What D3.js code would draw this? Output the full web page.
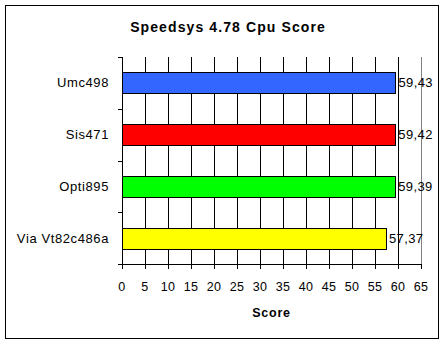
<!DOCTYPE html>
<html>
<head>
<meta charset="utf-8">
<script src="https://cdn.jsdelivr.net/npm/d3@7"></script>
<style>
  body { margin: 0; background: #fff; }
  text { font-family: "Liberation Sans", Arial, sans-serif; }
</style>
</head>
<body>
<svg id="chart" width="448" height="345"></svg>
<script>
// Chart data
var categories = ['Umc498', 'Sis471', 'Opti895', 'Via Vt82c486a'];
var scores = [59.43, 59.42, 59.39, 57.37];
var barColors = ['#3366ff', '#ff0000', '#00ff00', '#ffff00'];
var xTicks = [0, 5, 10, 15, 20, 25, 30, 35, 40, 45, 50, 55, 60, 65];

var svg = d3.select('#chart');

// Outer frame
svg.append('rect')
    .attr('x', 5.5).attr('y', 5.5)
    .attr('width', 433).attr('height', 333)
    .attr('fill', '#fff')
    .attr('stroke', '#000');

// Plot area bounds
var plotLeft = 122, plotRight = 421, plotTop = 57, plotBottom = 264;

var x = d3.scaleLinear().domain([0, 65]).range([plotLeft, plotRight]);
var y = d3.scaleBand().domain(categories).range([plotTop, plotBottom]).paddingInner(0.59).paddingOuter(0.295);
var yBand = d3.scaleBand().domain(categories).range([plotTop, plotBottom]);

// Vertical gridlines
svg.append('g').selectAll('line')
    .data(xTicks.slice(1, -1))
    .enter().append('line')
    .attr('x1', function(d) { return Math.round(x(d)) + 0.5; })
    .attr('x2', function(d) { return Math.round(x(d)) + 0.5; })
    .attr('y1', plotTop).attr('y2', plotBottom)
    .attr('stroke', '#000');

// Right edge of plot area (grey)
svg.append('line')
    .attr('x1', plotRight + 0.5).attr('x2', plotRight + 0.5)
    .attr('y1', plotTop).attr('y2', plotBottom)
    .attr('stroke', '#808080');

// Bars
svg.append('g').selectAll('rect')
    .data(scores)
    .enter().append('rect')
    .attr('x', plotLeft + 0.5)
    .attr('y', function(d, i) { return Math.round(y(categories[i])) + 0.5; })
    .attr('width', function(d) { return Math.round(x(d) - plotLeft); })
    .attr('height', Math.round(y.bandwidth()))
    .attr('fill', function(d, i) { return barColors[i]; })
    .attr('stroke', '#000');

// Value labels
svg.append('g').selectAll('text')
    .data(scores)
    .enter().append('text')
    .attr('x', function(d) { return x(d) + 3; })
    .attr('y', function(d, i) { return yBand(categories[i]) + yBand.bandwidth() / 2; })
    .attr('dy', '0.35em')
    .attr('font-size', '13px')
    .attr('letter-spacing', '0.4px')
    .attr('fill', '#000')
    .text(function(d) { return d.toFixed(2).replace('.', ','); });

// Y axis with ticks at band boundaries
var yAxis = svg.append('g');
yAxis.append('line')
    .attr('x1', plotLeft + 0.5).attr('x2', plotLeft + 0.5)
    .attr('y1', plotTop).attr('y2', plotBottom)
    .attr('stroke', '#000');
var bounds = categories.map(function(c) { return yBand(c); });
yAxis.selectAll('line.tick')
    .data(bounds)
    .enter().append('line')
    .classed('tick', true)
    .attr('x1', plotLeft - 4).attr('x2', plotLeft)
    .attr('y1', function(d) { return Math.round(d) + 0.5; })
    .attr('y2', function(d) { return Math.round(d) + 0.5; })
    .attr('stroke', '#000');
yAxis.selectAll('text')
    .data(categories)
    .enter().append('text')
    .attr('x', plotLeft - 13)
    .attr('y', function(d) { return yBand(d) + yBand.bandwidth() / 2; })
    .attr('dy', '0.35em')
    .attr('text-anchor', 'end')
    .attr('font-size', '13px')
    .attr('letter-spacing', '0.6px')
    .text(function(d) { return d; });

// X axis
var xAxis = svg.append('g');
xAxis.append('line')
    .attr('x1', plotLeft - 4).attr('x2', plotRight + 1)
    .attr('y1', plotBottom + 0.5).attr('y2', plotBottom + 0.5)
    .attr('stroke', '#000');
xAxis.selectAll('line.tick')
    .data(xTicks)
    .enter().append('line')
    .classed('tick', true)
    .attr('x1', function(d) { return Math.round(x(d)) + 0.5; })
    .attr('x2', function(d) { return Math.round(x(d)) + 0.5; })
    .attr('y1', plotBottom).attr('y2', plotBottom + 5)
    .attr('stroke', '#000');
xAxis.selectAll('text')
    .data(xTicks)
    .enter().append('text')
    .attr('x', function(d) { return x(d); })
    .attr('y', 287)
    .attr('dy', '0.35em')
    .attr('text-anchor', 'middle')
    .attr('font-size', '12.5px')
    .attr('letter-spacing', '0.3px')
    .text(function(d) { return d; });

// Axis title
svg.append('text')
    .attr('x', x(32.5))
    .attr('y', 313)
    .attr('dy', '0.35em')
    .attr('text-anchor', 'middle')
    .attr('font-size', '12.5px')
    .attr('font-weight', 'bold')
    .attr('letter-spacing', '0.8px')
    .text('Score');

// Chart title
svg.append('text')
    .attr('x', 228)
    .attr('y', 32)
    .attr('text-anchor', 'middle')
    .attr('font-size', '14px')
    .attr('font-weight', 'bold')
    .attr('letter-spacing', '1.1px')
    .text('Speedsys 4.78 Cpu Score');
</script>
</body>
</html>
